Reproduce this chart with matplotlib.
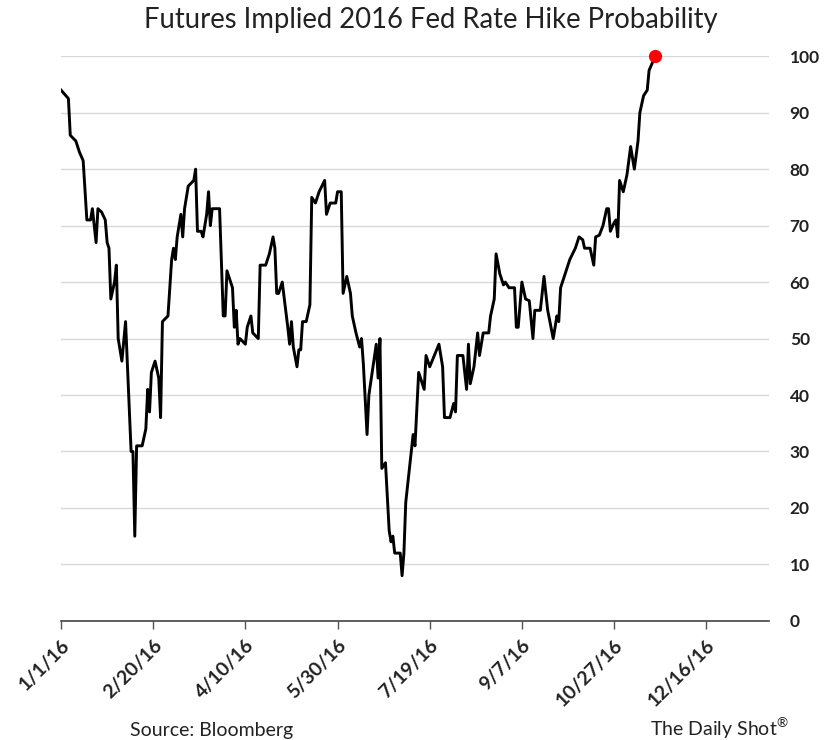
import matplotlib
matplotlib.use("Agg")
import matplotlib.pyplot as plt
import numpy as np
import pandas as pd

plt.rcParams["font.family"] = ["Lato", "DejaVu Sans"]
plt.rcParams["mathtext.fontset"] = "custom"
plt.rcParams["mathtext.rm"] = "Lato"

START = pd.Timestamp("2016-01-01")

# days since 1/1/16 and implied probability (%)
day_offset = [
    0, 4, 5, 8, 10, 12, 14, 16, 17, 19, 20, 22, 24, 25, 26, 27, 29, 30, 31, 33,
    35, 38, 39, 40, 41, 44, 46, 47, 48, 49, 51, 53, 54, 55, 58, 60, 61, 62, 63, 65,
    66, 67, 69, 72, 73, 74, 76, 77, 79, 80, 81, 82, 86, 88, 89, 90, 93, 94, 95, 96,
    97, 100, 101, 103, 104, 107, 108, 111, 113, 115, 116, 117, 118, 120, 123, 124, 125, 126, 128, 129,
    130, 131, 133, 135, 136, 138, 140, 143, 144, 146, 149, 150, 152, 153, 155, 157, 158, 160, 162, 163,
    164, 166, 167, 171, 172, 173, 174, 176, 178, 179, 180, 181, 184, 185, 186, 187, 190, 191, 192, 194,
    197, 198, 200, 205, 207, 208, 211, 213, 214, 215, 218, 220, 221, 222, 224, 226, 227, 229, 232, 233,
    235, 236, 238, 240, 241, 243, 246, 247, 248, 250, 252, 254, 256, 257, 260, 262, 264, 267, 269, 270,
    271, 274, 276, 279, 281, 283, 284, 287, 289, 290, 292, 294, 296, 297, 298, 300, 301, 302, 303, 305,
    307, 309, 310, 311, 313, 314, 316, 318, 319, 321, 322,
]
probability = [
    94, 92.5, 86, 85, 83, 81.5, 71, 71, 73, 67, 73, 72.4, 71, 67, 66, 57, 60, 63, 50, 46,
    53, 30, 30, 15, 31, 31, 34, 41, 37, 44, 46, 43, 36, 53, 54, 64, 66, 64, 68, 72,
    68, 73, 77, 78, 80, 69, 69, 68, 72, 76, 70, 73, 73, 54, 54, 62, 59, 52, 55, 49,
    50, 49, 52, 54, 51, 50, 63, 63, 65, 68, 66, 58, 58, 60, 52, 49, 53, 48.5, 45, 48,
    48, 53, 53, 56, 75, 74, 76, 78, 72, 74, 74, 76, 76, 58, 61, 58, 54, 51, 48.5, 50,
    45.5, 33, 40, 49, 43, 50, 27, 28, 16, 14, 15, 12, 12, 8, 12, 21, 30, 33, 31, 44,
    41, 47, 45, 49, 45, 36, 36, 38.5, 37, 47, 47, 41, 49, 42, 45, 51, 47, 51, 51, 54,
    57, 65, 61.5, 59.5, 60, 59, 59, 52, 52, 60, 57, 56.7, 50, 55, 55, 61, 55, 50, 54, 53,
    59, 62, 64, 66, 68, 67.5, 66, 66, 63, 68, 68.3, 70, 73, 73, 69, 70.5, 71, 68, 78, 76,
    79, 84, 82, 80, 85, 90, 93, 94, 97.5, 99, 100,
]

tick_labels = ["1/1/16", "2/20/16", "4/10/16", "5/30/16", "7/19/16", "9/7/16", "10/27/16", "12/16/16"]
y_ticks = [0, 10, 20, 30, 40, 50, 60, 70, 80, 90, 100]

dates = START + pd.to_timedelta(day_offset, unit="D")
tick_dates = [pd.to_datetime(t, format="%m/%d/%y") for t in tick_labels]

fig = plt.figure(figsize=(8.25, 7.4), dpi=100)
ax = fig.add_axes([0.074, 0.161, 0.858, 0.763])

ax.plot(dates, probability, color="black", lw=2.1, solid_joinstyle="round", zorder=3)
ax.plot(dates[-1], probability[-1], "o", color="#ff0000", ms=8.5, clip_on=False, zorder=4)

ax.set_xlim(START, pd.Timestamp("2017-01-19"))
ax.set_ylim(0, 100)

ax.set_xticks(tick_dates)
ax.set_xticklabels(tick_labels, rotation=45, ha="right", rotation_mode="anchor",
                   fontsize=14, fontweight="bold", color="#222222")
ax.tick_params(axis="x", direction="out", length=6, width=1, color="#555555", pad=5)

ax.yaxis.tick_right()
ax.set_yticks(y_ticks)
ax.set_yticklabels([str(v) for v in y_ticks], fontsize=12.5, fontweight="bold", color="#222222")
ax.tick_params(axis="y", length=0, pad=15)
ax.grid(axis="y", color="#d9d9d9", lw=1)
ax.set_axisbelow(True)

for side in ["left", "right", "top"]:
    ax.spines[side].set_visible(False)
ax.spines["bottom"].set_color("#444444")
ax.spines["bottom"].set_linewidth(1.2)

fig.text(0.522, 0.962, "Futures Implied 2016 Fed Rate Hike Probability",
         ha="center", va="baseline", fontsize=19.8, color="#222222")
fig.text(0.157, 0.0055, "Source: Bloomberg", ha="left", va="baseline", fontsize=14, color="#222222")
fig.text(0.788, 0.0055, "The Daily Shot$^{\\mathrm{\u00ae}}$", ha="left", va="baseline",
         fontsize=14, color="#222222")

fig.savefig("out.png", dpi=100)
